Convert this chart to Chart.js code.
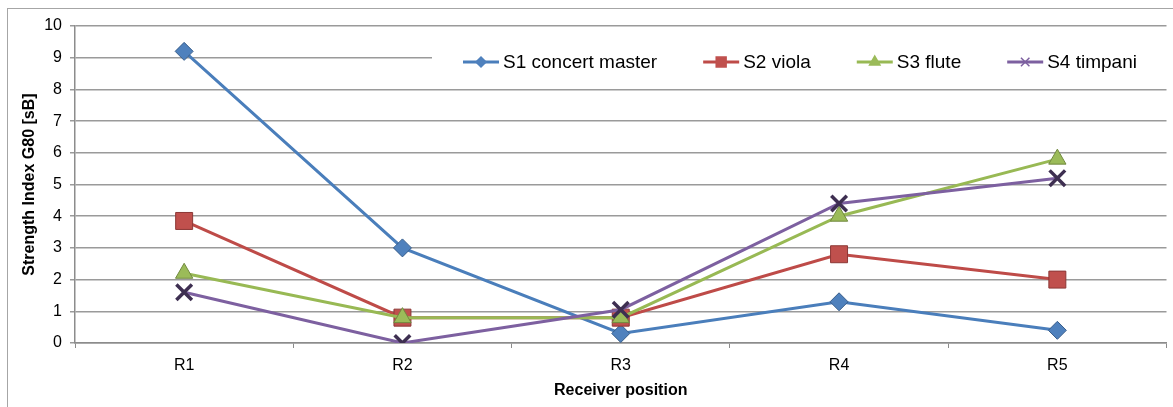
<!DOCTYPE html>
<html>
<head>
<meta charset="utf-8">
<script src="https://cdn.jsdelivr.net/npm/chart.js@4"></script>
<style>
  html, body { margin: 0; padding: 0; background: #fff; overflow: hidden; }
  #wrap { position: relative; width: 1173px; height: 407px; overflow: hidden; }
  #frame { position: absolute; left: 7px; top: 8px; width: 1200px; height: 500px;
           border-left: 1.5px solid #a6a6a6; border-top: 1.5px solid #a6a6a6; }
  canvas { position: absolute; left: 0; top: 0; }
</style>
</head>
<body>
<div id="wrap">
  <div id="frame"></div>
  <canvas id="myChart" width="1181" height="407"></canvas>
</div>
<script>
const categories = ['R1', 'R2', 'R3', 'R4', 'R5'];
const seriesNames = ['S1 concert master', 'S2 viola', 'S3 flute', 'S4 timpani'];
const s1 = [9.2, 3.0, 0.3, 1.3, 0.4];
const s2 = [3.85, 0.8, 0.8, 2.8, 2.0];
const s3 = [2.2, 0.8, 0.8, 4.0, 5.8];
const s4 = [1.6, 0.0, 1.05, 4.4, 5.2];
const yTicks = [0, 1, 2, 3, 4, 5, 6, 7, 8, 9, 10];

const FONT = "'Liberation Sans', Arial, sans-serif";

const styles = [
  { line: '#4a7ebb', fill: '#4f81bd', edge: '#385d8a', shape: 'rectRot', r: 9, lr: 5, bw: 1 },
  { line: '#be4b48', fill: '#c0504d', edge: '#8c3836', shape: 'rect', r: 12, lr: 7, bw: 1 },
  { line: '#98b954', fill: '#9bbb59', edge: '#71893f', shape: 'triangle', r: 10, lr: 6, bw: 1 },
  { line: '#7d60a0', fill: '#3e2f51', edge: '#3e2f51', shape: 'crossRot', r: 11, lr: 6, bw: 3.5 }
];

const values = [s1, s2, s3, s4];

// Excel-like legend: white box with line + marker + name
const excelLegend = {
  id: 'excelLegend',
  afterDraw(chart) {
    const ctx = chart.ctx;
    ctx.save();
    ctx.fillStyle = '#fff';
    ctx.fillRect(432, 42, 740, 40);
    ctx.font = '19px ' + FONT;
    ctx.textBaseline = 'middle';
    let x = 463;
    const y = 62;
    seriesNames.forEach((name, i) => {
      const st = styles[i];
      ctx.strokeStyle = st.line;
      ctx.lineWidth = 3;
      ctx.beginPath();
      ctx.moveTo(x, y);
      ctx.lineTo(x + 36, y);
      ctx.stroke();
      ctx.fillStyle = st.shape === 'crossRot' ? st.line : st.fill;
      ctx.strokeStyle = st.shape === 'crossRot' ? st.line : st.fill;
      ctx.lineWidth = 1.5;
      Chart.helpers.drawPoint(ctx, {
        pointStyle: st.shape, radius: st.lr, rotation: 0, borderWidth: 1.5
      }, x + 18, y);
      ctx.fillStyle = '#000';
      ctx.fillText(name, x + 40, y + 1);
      x += 40 + ctx.measureText(name).width + 46;
    });
    ctx.restore();
  }
};

const datasets = seriesNames.map((name, i) => ({
  label: name,
  data: values[i],
  borderColor: styles[i].line,
  borderWidth: 3,
  backgroundColor: styles[i].fill,
  pointStyle: styles[i].shape,
  pointRadius: styles[i].r,
  pointBackgroundColor: styles[i].fill,
  pointBorderColor: styles[i].edge,
  pointBorderWidth: styles[i].bw,
  tension: 0,
  fill: false,
  order: 4 - i
}));

const ctx = document.getElementById('myChart');
new Chart(ctx, {
  type: 'line',
  data: { labels: categories, datasets: datasets },
  plugins: [excelLegend],
  options: {
    responsive: false,
    animation: false,
    devicePixelRatio: 1,
    layout: { padding: { left: 0, top: 26, right: 7, bottom: 0 } },
    plugins: {
      legend: { display: false },
      tooltip: { enabled: false }
    },
    scales: {
      x: {
        offset: true,
        afterFit: s => { s.height = 64; },
        grid: {
          offset: true,
          drawOnChartArea: false,
          drawTicks: true,
          tickLength: 5,
          color: '#8c8c8c',
          lineWidth: 1
        },
        border: { color: '#8c8c8c', width: 1.5 },
        ticks: { color: '#000', font: { family: FONT, size: 16 }, padding: 8 },
        title: {
          display: true,
          text: 'Receiver position',
          color: '#000',
          font: { family: FONT, size: 16, weight: 'bold' },
          padding: { top: 0, bottom: 7 }
        }
      },
      y: {
        min: 0,
        max: 10,
        afterFit: s => { s.width = 75; },
        afterBuildTicks: s => { s.ticks = yTicks.map(v => ({ value: v })); },
        grid: {
          color: '#9a9a9a',
          lineWidth: 1.5,
          tickLength: 5,
          drawTicks: true
        },
        border: { color: '#8c8c8c', width: 1.5 },
        ticks: { color: '#000', font: { family: FONT, size: 16 }, padding: 8 },
        title: {
          display: true,
          text: 'Strength Index G80 [sB]',
          color: '#000',
          font: { family: FONT, size: 16, weight: 'bold' },
          padding: { top: 20, bottom: 0 }
        }
      }
    }
  }
});
</script>
</body>
</html>
